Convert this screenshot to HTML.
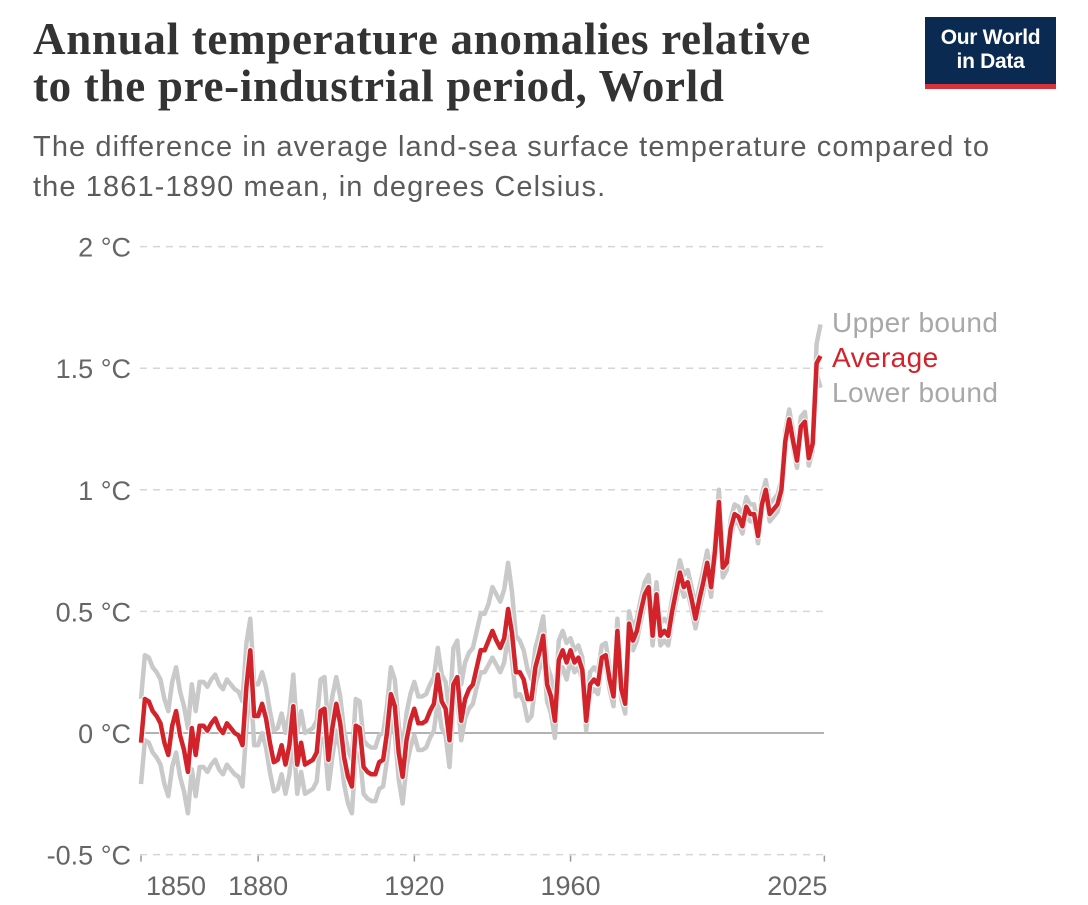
<!DOCTYPE html>
<html><head><meta charset="utf-8">
<style>
body{margin:0;background:#fff;width:1088px;height:905px;overflow:hidden;font-family:"Liberation Sans",sans-serif}
.title{position:absolute;left:33px;top:16px;font-family:"Liberation Serif",serif;font-weight:bold;font-size:45px;line-height:47px;color:#333;letter-spacing:0.7px;white-space:nowrap}
.sub{position:absolute;left:33px;top:127px;font-size:29px;line-height:40px;color:#5b5b5b;letter-spacing:1.1px;white-space:nowrap}
.logo{position:absolute;left:925px;top:17px;width:131px;height:72px;background:#0b2a52;color:#fff;font-size:21px;font-weight:bold;line-height:24px;text-align:center;box-sizing:border-box;padding-top:9px;border-bottom:5px solid #d6333d;letter-spacing:-0.3px}
</style></head><body>
<div class="title">Annual temperature anomalies relative<br>to the pre-industrial period, World</div>
<div class="sub">The difference in average land-sea surface temperature compared to<br>the 1861-1890 mean, in degrees Celsius.</div>
<div class="logo">Our World<br>in Data</div>
<svg id="chart" width="1088" height="905" style="position:absolute;left:0;top:0"></svg>
<script>
const startYear = 1850;
const yTicks = [-0.5, 0, 0.5, 1, 1.5, 2];
const yTickLabels = ["-0.5 °C","0 °C","0.5 °C","1 °C","1.5 °C","2 °C"];
const xTicks = [1850, 1880, 1920, 1960, 2025];
const average = [-0.04,0.14,0.13,0.09,0.07,0.04,-0.04,-0.09,0.03,0.09,-0.01,-0.07,-0.16,0.02,-0.09,0.03,0.03,0.01,0.04,0.06,0.02,0.00,0.04,0.02,0.00,-0.01,-0.05,0.19,
0.34,0.07,0.07,0.12,0.06,-0.04,-0.12,-0.11,-0.05,-0.13,-0.05,0.11,-0.13,-0.04,-0.13,-0.12,-0.11,-0.08,0.09,0.10,-0.11,0.02,
0.12,0.04,-0.10,-0.18,-0.22,0.03,0.02,-0.14,-0.16,-0.17,-0.17,-0.12,-0.11,0.00,0.16,0.11,-0.08,-0.18,-0.03,0.05,0.10,0.04,0.04,0.05,0.09,0.12,0.24,0.13,0.10,-0.03,
0.20,0.23,0.05,0.14,0.18,0.20,0.27,0.34,0.34,0.38,0.42,0.38,0.35,0.39,0.51,0.41,0.25,0.25,0.22,0.14,
0.14,0.27,0.33,0.40,0.20,0.15,0.05,0.30,0.34,0.29,
0.34,0.29,0.31,0.26,0.05,0.20,0.22,0.20,0.31,0.32,0.22,0.15,0.42,0.18,0.12,0.45,0.38,0.42,0.50,0.57,0.60,0.40,0.57,0.40,0.42,0.40,0.50,0.58,0.66,0.60,0.62,0.55,0.47,0.55,0.62,0.70,0.60,0.75,0.95,0.68,
0.70,0.84,0.90,0.89,0.85,0.93,0.90,0.90,0.81,0.94,1.00,0.90,0.92,0.94,1.00,1.20,1.29,1.20,1.12,1.26,1.28,1.13,1.19,1.52,1.55];
const upper = [0.14,0.32,0.31,0.27,0.25,0.22,0.14,0.09,0.21,0.27,0.17,0.11,0.02,0.20,0.09,0.21,0.21,0.19,0.22,0.24,0.20,0.18,0.22,0.20,0.18,0.17,0.13,0.37,
0.47,0.20,0.20,0.25,0.19,0.09,0.01,0.02,0.08,0.00,0.08,0.24,0.00,0.09,0.00,0.01,0.02,0.05,0.22,0.23,0.02,0.15,
0.23,0.15,0.01,-0.07,-0.11,0.14,0.13,-0.03,-0.05,-0.06,-0.06,-0.01,0.00,0.11,0.27,0.22,0.03,-0.07,0.08,0.16,0.21,0.15,0.15,0.16,0.20,0.23,0.35,0.24,0.21,0.08,
0.35,0.38,0.20,0.29,0.33,0.35,0.42,0.49,0.49,0.53,0.60,0.57,0.54,0.59,0.70,0.58,0.40,0.38,0.34,0.26,
0.22,0.35,0.41,0.48,0.28,0.23,0.13,0.38,0.42,0.37,
0.39,0.34,0.36,0.31,0.10,0.25,0.27,0.25,0.36,0.37,0.27,0.20,0.47,0.23,0.17,0.50,0.43,0.47,0.55,0.62,0.65,0.45,0.62,0.45,0.47,0.45,0.55,0.63,0.71,0.65,0.67,0.60,0.52,0.60,0.67,0.75,0.65,0.80,1.00,0.73,
0.74,0.88,0.94,0.93,0.89,0.97,0.94,0.94,0.85,0.98,1.04,0.94,0.96,0.98,1.04,1.24,1.33,1.24,1.16,1.30,1.32,1.17,1.23,1.60,1.68];
const lower = [-0.21,-0.03,-0.04,-0.08,-0.10,-0.13,-0.21,-0.26,-0.14,-0.08,-0.18,-0.24,-0.33,-0.15,-0.26,-0.14,-0.14,-0.16,-0.13,-0.11,-0.15,-0.17,-0.13,-0.15,-0.17,-0.18,-0.22,0.02,
0.22,-0.05,-0.05,0.00,-0.06,-0.16,-0.24,-0.23,-0.17,-0.25,-0.17,-0.01,-0.25,-0.16,-0.25,-0.24,-0.23,-0.20,-0.03,-0.02,-0.23,-0.10,
0.01,-0.07,-0.21,-0.29,-0.33,-0.08,-0.09,-0.25,-0.27,-0.28,-0.28,-0.23,-0.22,-0.11,0.05,0.00,-0.19,-0.29,-0.14,-0.06,-0.01,-0.07,-0.07,-0.06,-0.02,0.01,0.13,0.02,-0.01,-0.14,
0.12,0.15,-0.03,0.06,0.10,0.12,0.19,0.25,0.25,0.28,0.31,0.28,0.25,0.29,0.40,0.30,0.15,0.16,0.13,0.05,
0.07,0.20,0.26,0.33,0.13,0.08,-0.02,0.23,0.27,0.22,
0.30,0.25,0.27,0.22,0.01,0.16,0.18,0.16,0.27,0.28,0.18,0.11,0.38,0.14,0.08,0.41,0.34,0.38,0.46,0.53,0.56,0.36,0.53,0.36,0.38,0.36,0.46,0.54,0.62,0.56,0.58,0.51,0.43,0.51,0.58,0.66,0.56,0.71,0.91,0.64,
0.67,0.81,0.87,0.86,0.82,0.90,0.87,0.87,0.78,0.91,0.97,0.87,0.89,0.91,0.97,1.17,1.26,1.17,1.09,1.23,1.25,1.10,1.16,1.48,1.42];

const NS='http://www.w3.org/2000/svg';
const svg=document.getElementById('chart');
const X0=141, PXY=3.905, Y0=733, PXV=243.2;
const x=yr=>X0+(yr-startYear)*PXY;
const y=v=>Y0-v*PXV;
function mk(tag,attrs){const e=document.createElementNS(NS,tag);for(const k in attrs)e.setAttribute(k,attrs[k]);svg.appendChild(e);return e;}
yTicks.forEach((v,i)=>{
  if(v!==0){const g=mk('line',{x1:140,x2:824,y1:y(v),y2:y(v),stroke:'#d6d6d6','stroke-width':1.5,'stroke-dasharray':'7,6'});
  
  }
  const t=mk('text',{x:131,y:y(v)+10,'text-anchor':'end','font-size':27,fill:'#666','font-family':'Liberation Sans, sans-serif'});
  t.textContent=yTickLabels[i];
  
  
});
const z=mk('line',{x1:140,x2:824,y1:y(0),y2:y(0),stroke:'#999','stroke-width':1.5});


xTicks.forEach(yr=>{
  const tk=mk('line',{x1:x(yr),x2:x(yr),y1:y(-0.5)+1,y2:y(-0.5)+7,stroke:'#999','stroke-width':1.5});
  
  
  const t=mk('text',{x:x(yr),y:895,'text-anchor':yr===2025?'end':'middle','font-size':27,fill:'#666','font-family':'Liberation Sans, sans-serif'});
  if(yr===1850)t.setAttribute('x',x(yr)+35);
  if(yr===2025)t.setAttribute('x',x(yr)+3);
  t.textContent=yr;
  
  
});
function path(arr){return arr.map((v,i)=>(i?'L':'M')+x(startYear+i).toFixed(1)+','+y(v).toFixed(1)).join('');}
const pu=mk('path',{d:path(upper),fill:'none',stroke:'#c9c9c9','stroke-width':4.5,'stroke-linejoin':'round'});


const pl=mk('path',{d:path(lower),fill:'none',stroke:'#c9c9c9','stroke-width':4.5,'stroke-linejoin':'round'});


mk('path',{d:path(average),fill:'none',stroke:'#fff','stroke-width':7,'stroke-linejoin':'round','opacity':0.7});
const pa=mk('path',{d:path(average),fill:'none',stroke:'#d2232a','stroke-width':4.5,'stroke-linejoin':'round'});


[['Upper bound',332,'#a8a8a8','legend-upper-bound'],['Average',367,'#d2232a','legend-average'],['Lower bound',402,'#a8a8a8','legend-lower-bound']].forEach(l=>{
  const t=mk('text',{x:832,y:l[1],'font-size':28,'letter-spacing':0.4,fill:l[2],'font-family':'Liberation Sans, sans-serif'});
  t.textContent=l[0];
  
  
});
</script>
</body></html>
